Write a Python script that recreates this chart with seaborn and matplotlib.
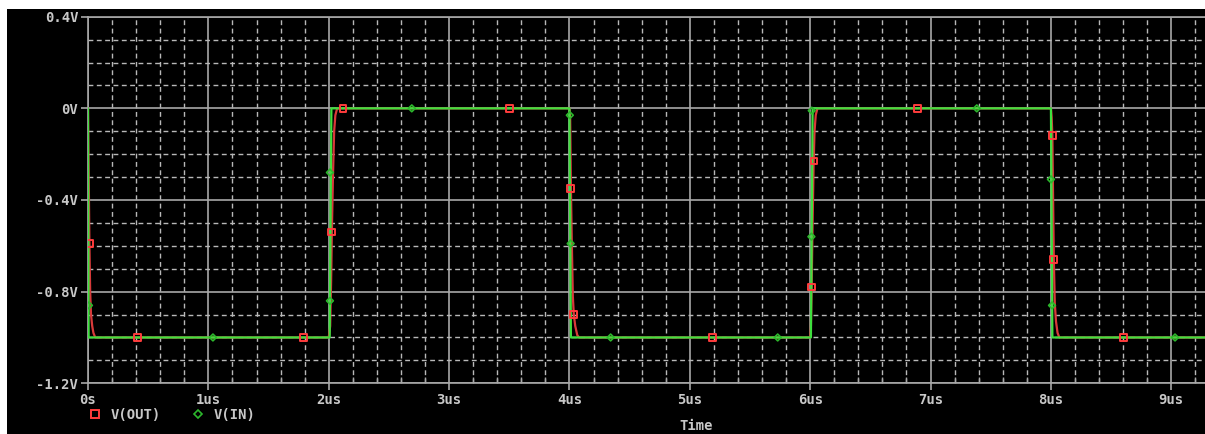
import pandas as pd
import matplotlib.pyplot as plt
import seaborn as sns
from matplotlib.patches import Rectangle
from matplotlib.lines import Line2D
from matplotlib.ticker import MultipleLocator

# waveform breakpoints (time in us, volts)
time_in = [0, 0.005, 2.008, 2.022, 4.0, 4.012, 6.006, 6.02, 8.0, 8.012, 9.28]
v_in = [0, -1, -1, 0, 0, -1, -1, 0, 0, -1, -1]

time_out = [0, 0.006, 0.012, 0.018, 0.025, 0.035, 0.045, 0.06,
            2.0, 2.012, 2.02, 2.026, 2.035, 2.045, 2.055, 2.07,
            4.0, 4.006, 4.012, 4.02, 4.028, 4.036, 4.048, 4.065, 4.08,
            6.0, 6.006, 6.012, 6.02, 6.028, 6.036, 6.046, 6.06,
            8.0, 8.006, 8.012, 8.018, 8.024, 8.032, 8.042, 8.055, 8.07, 9.28]
v_out = [0, -0.3, -0.6, -0.8, -0.9, -0.95, -0.98, -1.0,
         -1, -0.95, -0.75, -0.54, -0.3, -0.1, -0.03, 0,
         0, -0.05, -0.35, -0.6, -0.82, -0.9, -0.95, -0.99, -1,
         -1, -0.95, -0.78, -0.5, -0.25, -0.1, -0.03, 0,
         0, -0.04, -0.12, -0.4, -0.66, -0.85, -0.93, -0.98, -1, -1]

# marker positions
out_mark_t = [0.015, 0.41, 1.79, 2.024, 2.118, 3.505, 4.01, 4.034, 5.19, 6.01, 6.032, 6.893, 8.011, 8.023, 8.602]
out_mark_v = [-0.59, -1, -1, -0.54, 0, 0, -0.35, -0.9, -1, -0.78, -0.23, 0, -0.12, -0.66, -1]
in_mark_t = [0.008, 1.038, 2.01, 2.01, 2.69, 4.003, 4.01, 4.342, 5.73, 6.013, 6.01, 7.384, 8.0, 8.009, 9.031]
in_mark_v = [-0.86, -1, -0.28, -0.84, 0, -0.03, -0.59, -1, -1, -0.01, -0.56, 0, -0.31, -0.86, -1]

x_ticks = [0, 1, 2, 3, 4, 5, 6, 7, 8, 9]
x_labels = ["0s", "1us", "2us", "3us", "4us", "5us", "6us", "7us", "8us", "9us"]
y_ticks = [0.4, 0, -0.4, -0.8, -1.2]
y_labels = ["0.4V", "0V", "-0.4V", "-0.8V", "-1.2V"]

sns.set_theme(style="dark")
plt.rcParams["font.family"] = ["DejaVu Sans Mono"]
plt.rcParams["font.weight"] = "bold"

txt = "#c8c8c8"
grid_c = "#a8a8a8"
red = "#ff3c3c"
red_line = "#d83a3a"
green = "#3ee03e"

fig = plt.figure(figsize=(12.05, 4.34), dpi=100, facecolor="white")
fig.patches.append(Rectangle((7 / 1205, 0), 1, 425 / 434, transform=fig.transFigure,
                             facecolor="black", edgecolor="none", zorder=-10))

ax = fig.add_axes([88 / 1205, 50.7 / 434, (1205 - 88) / 1205, 366.6 / 434])
ax.set_facecolor("black")

df_out = pd.DataFrame({"t": time_out, "v": v_out})
df_in = pd.DataFrame({"t": time_in, "v": v_in})
sns.lineplot(data=df_out, x="t", y="v", ax=ax, color=red_line, lw=1.6, estimator=None, zorder=3)
sns.lineplot(data=df_in, x="t", y="v", ax=ax, color=green, lw=1.6, estimator=None, zorder=4)
sns.scatterplot(x=out_mark_t, y=out_mark_v, ax=ax, marker="s", s=24, facecolor="none",
                edgecolor=red, linewidth=1.4, zorder=5)
sns.scatterplot(x=in_mark_t, y=in_mark_v, ax=ax, marker="D", s=12, facecolor="none",
                edgecolor="#2cb82c", linewidth=1.2, zorder=6)

ax.set_xlim(0, 9.28)
ax.set_ylim(-1.2, 0.4)
ax.set_xticks(x_ticks)
ax.set_xticklabels(x_labels)
ax.set_yticks(y_ticks)
ax.set_yticklabels(y_labels)
ax.xaxis.set_minor_locator(MultipleLocator(0.2))
ax.yaxis.set_minor_locator(MultipleLocator(0.1))

ax.grid(which="major", color=grid_c, lw=1.2, ls="-", zorder=1)
ax.grid(which="minor", color="#b8b8b8", lw=1.0, ls=(0, (3.5, 2.5)), zorder=1)
ax.set_axisbelow(True)

ax.tick_params(axis="both", which="major", colors=grid_c, labelcolor=txt, labelsize=10,
               direction="out", length=5, width=1.2, pad=2, bottom=True, left=True)
ax.tick_params(axis="x", which="minor", direction="in", length=4, width=1, colors=grid_c, bottom=True)
ax.tick_params(axis="y", which="minor", length=0)

for side in ["left", "bottom", "top"]:
    ax.spines[side].set_color(grid_c)
    ax.spines[side].set_linewidth(1.2)
ax.spines["right"].set_visible(False)

ax.set_ylabel("")
ax.set_xlabel("Time", color=txt, fontsize=10, fontweight="bold")
ax.xaxis.set_label_coords((696 - 88) / 1117, (383.3 - 419) / 366.6)

handles = [
    Line2D([], [], marker="s", ls="none", mfc="none", mec=red, mew=1.4, ms=5.2),
    Line2D([], [], marker="D", ls="none", mfc="none", mec="#2cb82c", mew=1.2, ms=3.8),
]
fig.legend(handles, ["V(OUT)", "V(IN)"], loc="upper left", bbox_to_anchor=(88 / 1205, 1 - 408 / 434),
           ncol=2, frameon=False, handlelength=1.0, handletextpad=0.6, columnspacing=2.2,
           borderpad=0, borderaxespad=0, labelcolor=txt, prop={"size": 10, "weight": "bold"})

fig.savefig("out.png", dpi=100, facecolor="white")
